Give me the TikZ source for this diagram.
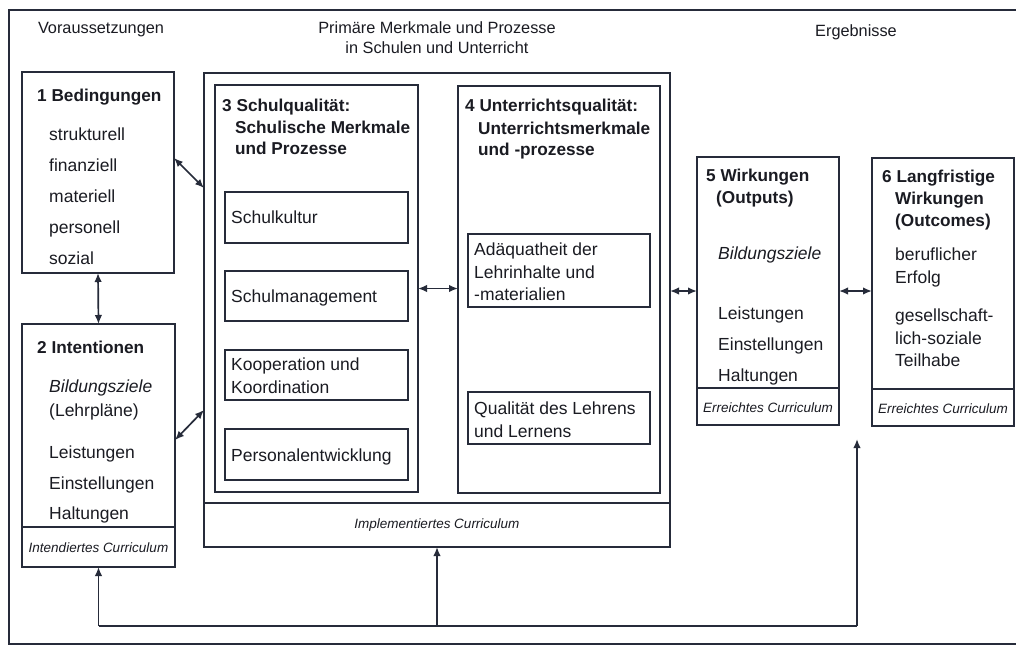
\documentclass[tikz,border=0pt]{standalone}
\usepackage{fontspec}
\setmainfont{Liberation Sans}
\usetikzlibrary{arrows.meta,calc}
\definecolor{ln}{HTML}{262B3A}
\definecolor{tx}{HTML}{1A1B22}
\tikzset{
  box/.style={draw=ln, line width=1.6pt, inner sep=0pt, outer sep=0pt, anchor=north west},
  tl/.style={anchor=base west, inner sep=0pt, text=tx, font=\fontsize{17.5}{20}\selectfont},
  ti/.style={tl, font=\fontsize{17.5}{20}\selectfont\itshape},
  tb/.style={tl, font=\fontsize{17.2}{20}\selectfont\bfseries},
  th/.style={anchor=base, inner sep=0pt, text=tx, font=\fontsize{16.3}{19}\selectfont},
  tc/.style={anchor=base, inner sep=0pt, text=tx, font=\fontsize{13.5}{16}\selectfont\itshape},
  tip/.tip={Latex[length=9pt,width=7.5pt]},
  dbl/.style={draw=ln, line width=1.7pt, tip-tip},
  one/.style={draw=ln, line width=1.7pt, -tip},
  ln/.style={draw=ln, line width=1.6pt},
}
\begin{document}
\begin{tikzpicture}[x=1pt,y=-1pt]
\useasboundingbox (0,0) rectangle (1016,646);
\fill[white] (0,0) rectangle (1016,646);
% outer frame (right edge outside the picture)
\draw[ln] (1030,10) -- (9,10) -- (9,644) -- (1030,644);

% column headings
\node[th] (h1) at (101,33) {Voraussetzungen};
\node[th] (h2a) at (437,33) {Primäre Merkmale und Prozesse};
\node[th] (h2b) at (437,53) {in Schulen und Unterricht};
\node[th] (h3) at (856,36) {Ergebnisse};

% box 1
\node[box, minimum width=152pt, minimum height=201pt] (b1) at (22,72) {};
\node[tb] (b1t) at (37,101) {1 Bedingungen};
\node[tl] (b1a) at (49,140) {strukturell};
\node[tl] (b1b) at (49,171) {finanziell};
\node[tl] (b1c) at (49,202) {materiell};
\node[tl] (b1d) at (49,233) {personell};
\node[tl] (b1e) at (49,264) {sozial};

% box 2
\node[box, minimum width=153pt, minimum height=243pt] (b2) at (22,324) {};
\draw[ln] (22,527) -- (175,527);
\node[tb] (b2t) at (37,353) {2 Intentionen};
\node[ti] (b2a) at (49,392) {Bildungsziele};
\node[tl] (b2b) at (49,416) {(Lehrpläne)};
\node[tl] (b2c) at (49,458) {Leistungen};
\node[tl] (b2d) at (49,489) {Einstellungen};
\node[tl] (b2e) at (49,519) {Haltungen};
\node[tc] (b2f) at (98.5,552) {Intendiertes Curriculum};

% outer box 3/4
\node[box, minimum width=466pt, minimum height=474pt] (o3) at (204,73) {};
\draw[ln] (204,503) -- (670,503);
\node[tc] (o3c) at (437,528) {Implementiertes Curriculum};

% box 3
\node[box, minimum width=203pt, minimum height=407pt] (i3) at (215,85) {};
\node[tb] (i3a) at (222,111) {3 Schulqualität:};
\node[tb] (i3b) at (235,133) {Schulische Merkmale};
\node[tb] (i3c) at (235,154) {und Prozesse};
\node[box, minimum width=183pt, minimum height=51pt] (s1) at (225,192) {};
\node[box, minimum width=183pt, minimum height=50pt] (s2) at (225,271) {};
\node[box, minimum width=183pt, minimum height=50pt] (s3) at (225,350) {};
\node[box, minimum width=183pt, minimum height=51pt] (s4) at (225,429) {};
\node[tl] (s1t) at (231,223) {Schulkultur};
\node[tl] (s2t) at (231,302) {Schulmanagement};
\node[tl] (s3t) at (231,370) {Kooperation und};
\node[tl] (s3u) at (231,393) {Koordination};
\node[tl] (s4t) at (231,461) {Personalentwicklung};

% box 4
\node[box, minimum width=202pt, minimum height=407pt] (i4) at (458,86) {};
\node[tb] (i4a) at (465,111) {4 Unterrichtsqualität:};
\node[tb] (i4b) at (478,134) {Unterrichtsmerkmale};
\node[tb] (i4c) at (478,155) {und -prozesse};
\node[box, minimum width=182pt, minimum height=73pt] (u1) at (468,234) {};
\node[box, minimum width=182pt, minimum height=52pt] (u2) at (468,392) {};
\node[tl] (u1a) at (474,255) {Adäquatheit der};
\node[tl] (u1b) at (474,278) {Lehrinhalte und};
\node[tl] (u1c) at (474,300) {-materialien};
\node[tl] (u2a) at (474,414) {Qualität des Lehrens};
\node[tl] (u2b) at (474,437) {und Lernens};

% box 5
\node[box, minimum width=142pt, minimum height=268pt] (b5) at (697,157) {};
\draw[ln] (697,388) -- (839,388);
\node[tb] (b5a) at (706,181) {5 Wirkungen};
\node[tb] (b5b) at (716,203) {(Outputs)};
\node[ti] (b5c) at (718,259) {Bildungsziele};
\node[tl] (b5d) at (718,319) {Leistungen};
\node[tl] (b5e) at (718,350) {Einstellungen};
\node[tl] (b5f) at (718,381) {Haltungen};
\node[tc] (b5g) at (768,412) {Erreichtes Curriculum};

% box 6
\node[box, minimum width=142pt, minimum height=268pt] (b6) at (872,158) {};
\draw[ln] (872,389) -- (1014,389);
\node[tb] (b6a) at (882,182) {6 Langfristige};
\node[tb] (b6b) at (895,204) {Wirkungen};
\node[tb] (b6c) at (895,226) {(Outcomes)};
\node[tl] (b6d) at (895,260) {beruflicher};
\node[tl] (b6e) at (895,283) {Erfolg};
\node[tl] (b6f) at (895,321) {gesellschaft-};
\node[tl] (b6g) at (895,344) {lich-soziale};
\node[tl] (b6h) at (895,366) {Teilhabe};
\node[tc] (b6i) at (943,413) {Erreichtes Curriculum};

% connectors
\draw[dbl] (b1.south) -- (b2.north);
\draw[dbl] ($(b1.north east)+(0,86)$) -- ($(o3.north west)+(0,115)$);
\draw[dbl] ($(b2.north east)+(0,116)$) -- ($(o3.north west)+(0,337)$);
\draw[dbl] (i3.east) -- (i4.west |- i3.east);
\draw[dbl] (o3.east |- b5.west) -- (b5.west);
\draw[dbl] (b5.east) -- (b6.west |- b5.east);

% feedback lines
\coordinate (cl) at (98.5,626);
\coordinate (cm) at (437,626);
\coordinate (cr) at (857,626);
\coordinate (fr) at (857,439);
\draw[ln] (cl) -- (cr);
\draw[one] (cl) -- (b2.south);
\draw[one] (cm) -- (o3.south);
\draw[one] (cr) -- (fr);
\end{tikzpicture}
\end{document}
